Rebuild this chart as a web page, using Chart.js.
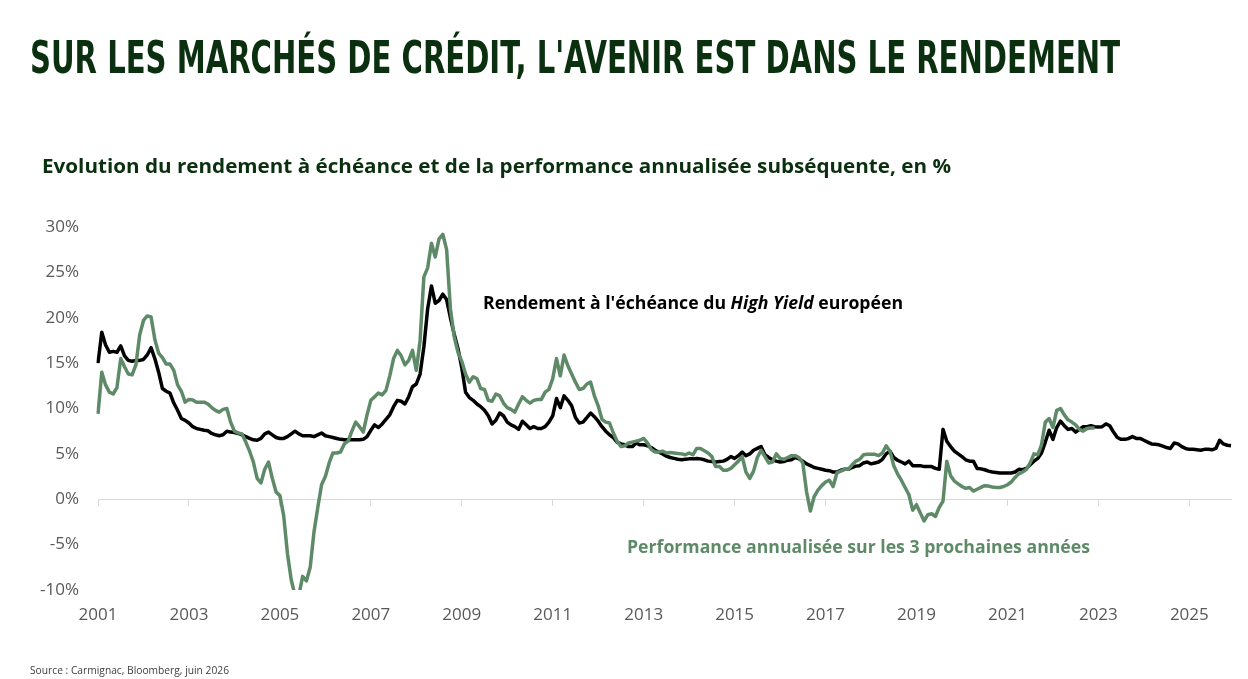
<!DOCTYPE html>
<html lang="fr">
<head>
<meta charset="utf-8">
<title>Rendement High Yield européen</title>
<script src="https://cdn.jsdelivr.net/npm/chart.js@4.4.1/dist/chart.umd.min.js"></script>
<style>
  body { margin: 0; background: #ffffff; }
  #wrap { position: relative; width: 1248px; height: 679px; overflow: hidden; }
  #chart { position: absolute; left: 0; top: 0; width: 1248px; height: 679px; }
  .txt { position: absolute; white-space: nowrap; line-height: 1; transform-origin: left top; display: inline-block; }
  #title { left: 30px; top: 35px; font-family: 'DejaVu Sans Condensed', 'DejaVu Sans'; font-stretch: condensed; font-weight: bold; font-size: 45px; color: #0b3010; }
  #subtitle { left: 42px; top: 156px; font-family: 'Open Sans'; font-weight: bold; font-size: 19.5px; color: #0b3010; }
  #noteYield { left: 483px; top: 293px; font-family: 'Open Sans'; font-weight: bold; font-size: 18px; color: #000000; }
  #notePerf { left: 627px; top: 537px; font-family: 'Open Sans'; font-weight: bold; font-size: 18px; color: #5e8a68; }
  #source { left: 30px; top: 665px; font-family: 'Open Sans'; font-size: 10px; color: #404040; }
</style>
</head>
<body>
<div id="wrap">
  <canvas id="chart" width="1248" height="679"></canvas>
  <div class="txt" id="title">SUR LES MARCHÉS DE CRÉDIT, L'AVENIR EST DANS LE RENDEMENT</div>
  <div class="txt" id="subtitle">Evolution du rendement à échéance et de la performance annualisée subséquente, en %</div>
  <div class="txt" id="noteYield">Rendement à l'échéance du <i>High Yield</i> européen</div>
  <div class="txt" id="notePerf">Performance annualisée sur les 3 prochaines années</div>
  <div class="txt" id="source">Source : Carmignac, Bloomberg, juin 2026</div>
</div>
<script>
// Données mensuelles, janvier 2001 -> décembre 2025
const firstYear = 2001;
const lastYear = 2025;

// Rendement à l'échéance du High Yield européen (%), une ligne par année
const yieldHY = [
  15.0, 18.4, 17.0, 16.2, 16.3, 16.2, 16.9, 15.8, 15.3, 15.2, 15.3, 15.3,
  15.4, 15.9, 16.7, 15.5, 14.0, 12.2, 11.9, 11.7, 10.6, 9.8, 8.9, 8.7,
  8.4, 8.0, 7.8, 7.7, 7.6, 7.55, 7.25, 7.1, 7.0, 7.1, 7.5, 7.4,
  7.35, 7.25, 7.1, 6.9, 6.7, 6.55, 6.5, 6.7, 7.2, 7.4, 7.1, 6.8,
  6.7, 6.7, 6.9, 7.2, 7.5, 7.2, 7.0, 7.0, 7.0, 6.9, 7.1, 7.3,
  7.0, 6.9, 6.8, 6.7, 6.6, 6.55, 6.55, 6.55, 6.55, 6.55, 6.6, 6.9,
  7.6, 8.2, 7.9, 8.3, 8.8, 9.3, 10.2, 10.9, 10.8, 10.5, 11.3, 12.4,
  12.7, 13.8, 16.8, 21.0, 23.5, 21.6, 21.9, 22.6, 22.0, 20.0, 18.2, 16.6,
  14.5, 11.8, 11.2, 10.9, 10.5, 10.2, 9.8, 9.2, 8.3, 8.7, 9.5, 9.2,
  8.5, 8.2, 8.0, 7.7, 8.6, 8.2, 7.8, 8.0, 7.8, 7.8, 8.0, 8.5,
  9.2, 11.1, 10.1, 11.4, 10.9, 10.3, 9.0, 8.4, 8.5, 9.0, 9.5, 9.1,
  8.6, 8.0, 7.5, 7.1, 6.8, 6.3, 6.1, 6.0, 5.8, 5.8, 6.2, 6.0,
  6.0, 5.9, 5.7, 5.4, 5.2, 5.0, 4.75, 4.6, 4.5, 4.4, 4.35, 4.4,
  4.45, 4.45, 4.5, 4.45, 4.35, 4.2, 4.15, 4.1, 4.15, 4.2, 4.4, 4.7,
  4.5, 4.8, 5.2, 4.8, 5.0, 5.4, 5.6, 5.8, 4.9, 4.6, 4.35, 4.2,
  4.1, 4.15, 4.3, 4.35, 4.6, 4.45, 4.2, 3.9, 3.7, 3.5, 3.4, 3.3,
  3.2, 3.15, 3.0, 3.0, 3.2, 3.3, 3.3, 3.5, 3.65, 3.7, 4.0, 4.1,
  3.9, 4.0, 4.1, 4.4, 5.0, 5.3, 4.6, 4.3, 4.1, 3.9, 4.2, 3.7,
  3.7, 3.7, 3.6, 3.6, 3.6, 3.4, 3.3, 7.7, 6.4, 5.8, 5.3, 5.0,
  4.7, 4.35, 4.2, 4.2, 3.4, 3.35, 3.25, 3.1, 3.0, 2.95, 2.9, 2.9,
  2.9, 2.9, 3.0, 3.3, 3.25, 3.4, 3.8, 4.2, 4.5, 5.1, 6.3, 7.6,
  6.6, 7.9, 8.6, 8.1, 7.7, 7.8, 7.4, 7.7, 8.0, 8.0, 8.1, 8.0,
  7.95, 8.0, 8.3, 8.1, 7.4, 6.8, 6.6, 6.6, 6.7, 6.9, 6.7, 6.7,
  6.5, 6.3, 6.1, 6.05, 6.0, 5.85, 5.7, 5.6, 6.2, 6.1, 5.8, 5.6,
  5.5, 5.5, 5.45, 5.4, 5.5, 5.5, 5.45, 5.6, 6.5, 6.1, 5.95, 5.9
];

// Performance annualisée sur les 3 années suivantes (%), jusqu'à fin 2022
const perf3y = [
  9.4, 14.0, 12.6, 11.8, 11.6, 12.3, 15.5, 14.6, 13.8, 13.7, 14.8, 18.1,
  19.7, 20.2, 20.1, 17.6, 16.1, 15.6, 14.9, 14.9, 14.2, 12.6, 11.9, 10.7,
  11.0, 10.95, 10.7, 10.7, 10.7, 10.5, 10.1, 9.8, 9.6, 9.9, 10.0, 8.5,
  7.5, 7.3, 7.2, 6.3, 5.3, 4.1, 2.3, 1.8, 3.3, 4.1, 2.3, 0.8,
  0.4, -1.8, -6.0, -8.9, -10.6, -10.6, -8.5, -9.0, -7.5, -3.6, -0.9, 1.6,
  2.5, 4.0, 5.1, 5.1, 5.2, 6.1, 6.4, 7.5, 8.5, 8.0, 7.4, 9.3,
  10.9, 11.3, 11.7, 11.5, 12.0, 13.6, 15.5, 16.4, 15.8, 14.8, 15.3, 16.4,
  14.2, 17.5, 24.5, 25.5, 28.2, 26.7, 28.7, 29.2, 27.5, 21.0, 17.9, 16.2,
  15.2, 13.8, 12.9, 13.5, 13.3, 12.2, 12.1, 10.9, 10.8, 11.6, 11.4, 10.6,
  10.1, 9.9, 9.6, 10.5, 11.3, 10.9, 10.6, 10.9, 11.0, 11.0, 11.8, 12.1,
  13.3, 15.5, 13.6, 15.9, 14.7, 13.8, 12.9, 12.1, 12.2, 12.7, 12.9, 11.4,
  10.3, 8.8, 8.5, 8.4, 7.3, 6.4, 5.8, 5.9, 6.2, 6.3, 6.4, 6.5,
  6.7, 6.2, 5.5, 5.2, 5.2, 5.3, 5.1, 5.15, 5.1, 5.05, 5.0, 4.9,
  5.1, 4.9, 5.6, 5.6, 5.35, 5.1, 4.7, 3.6, 3.6, 3.2, 3.2, 3.4,
  3.8, 4.2, 4.7, 3.0, 2.3, 3.1, 4.6, 5.4, 4.7, 4.0, 4.1, 5.0,
  4.5, 4.4, 4.6, 4.8, 4.8, 4.6, 4.0, 0.8, -1.3, 0.3, 1.0, 1.5,
  1.9, 2.1, 1.4, 2.9, 3.1, 3.3, 3.3, 3.8, 4.2, 4.4, 4.9, 4.95,
  4.95, 4.95, 4.8, 5.1, 5.9, 5.3, 3.7, 2.8, 2.1, 1.3, 0.5, -1.2,
  -0.6, -1.5, -2.4, -1.7, -1.6, -1.9, -0.9, -0.2, 4.2, 2.6, 2.0, 1.7,
  1.4, 1.2, 1.3, 0.9, 1.1, 1.3, 1.5, 1.45, 1.35, 1.3, 1.3, 1.4,
  1.6, 1.9, 2.4, 2.8, 3.0, 3.3, 4.0, 5.0, 4.9, 6.0, 8.5, 8.9,
  7.9, 9.8, 10.0, 9.3, 8.75, 8.5, 8.2, 7.7, 7.5, 7.8, 7.85, 7.85
];

// Étiquettes de l'axe des abscisses (une sur deux années)
const tickYears = ['2001', '2003', '2005', '2007', '2009', '2011', '2013',
  '2015', '2017', '2019', '2021', '2023', '2025'];
const yTicks = [-10, -5, 0, 5, 10, 15, 20, 25, 30];

const couleurs = {
  noir: '#000000',
  vert: '#5e8a68',
  gris: '#595959',
  axe: '#d9d9d9'
};

// Catégories mensuelles
const months = [];
for (let y = firstYear; y <= lastYear; y++) {
  for (let m = 1; m <= 12; m++) {
    months.push(y + '-' + String(m).padStart(2, '0'));
  }
}

// Garder uniquement les janviers des années impaires
function keepYearTicks(axis) {
  axis.ticks = axis.ticks.filter(t => months[t.value].endsWith('-01') &&
    tickYears.includes(months[t.value].slice(0, 4)));
}

Chart.defaults.font.family = "'Open Sans', sans-serif";

const ctx = document.getElementById('chart').getContext('2d');
const chart = new Chart(ctx, {
  type: 'line',
  data: {
    labels: months,
    datasets: [
      {
        label: 'Performance annualisée sur les 3 prochaines années',
        data: perf3y,
        borderColor: couleurs.vert,
        borderWidth: 3.5,
        pointRadius: 0,
        tension: 0,
        borderJoinStyle: 'round',
        fill: false
      },
      {
        label: "Rendement à l'échéance du High Yield européen",
        data: yieldHY,
        borderColor: couleurs.noir,
        borderWidth: 3.5,
        pointRadius: 0,
        tension: 0,
        borderJoinStyle: 'round',
        fill: false
      }
    ]
  },
  options: {
    responsive: false,
    animation: false,
    events: [],
    layout: { padding: { left: 28, right: 17, top: 227, bottom: 49 } },
    plugins: {
      legend: { display: false },
      tooltip: { enabled: false }
    },
    scales: {
      x: {
        type: 'category',
        grid: { display: false, drawTicks: false },
        border: { display: false },
        afterBuildTicks: keepYearTicks,
        afterFit: scale => { scale.height = 40; },
        ticks: {
          autoSkip: false,
          maxRotation: 0,
          padding: 15,
          color: couleurs.gris,
          font: { size: 17 },
          callback: (value, i) => tickYears[i]
        }
      },
      x0: {
        type: 'category',
        axis: 'x',
        position: { y: 0 },
        grid: { drawOnChartArea: false, drawTicks: true, tickLength: 6, color: couleurs.axe, lineWidth: 1 },
        border: { display: true, color: couleurs.axe, width: 1 },
        afterBuildTicks: keepYearTicks,
        ticks: { display: false, autoSkip: false }
      },
      y: {
        min: yTicks[0],
        max: yTicks[yTicks.length - 1],
        grid: { display: false, drawTicks: false },
        border: { display: false },
        afterFit: scale => { scale.width = 70; },
        afterBuildTicks: axis => { axis.ticks = yTicks.map(v => ({ value: v })); },
        ticks: {
          padding: 19,
          color: couleurs.gris,
          font: { size: 17 },
          callback: v => v + '%'
        }
      }
    }
  }
});

// Ajuster la largeur des textes
const largeurs = { title: 1090, subtitle: 909, noteYield: 420, notePerf: 463, source: 199 };
function ajusterTextes() {
  Object.keys(largeurs).forEach(id => {
    const el = document.getElementById(id);
    el.style.transform = 'none';
    const w = el.getBoundingClientRect().width;
    el.style.transform = 'scaleX(' + (largeurs[id] / w) + ')';
  });
}
ajusterTextes();
if (document.fonts && document.fonts.ready) document.fonts.ready.then(ajusterTextes);
</script>
</body>
</html>
